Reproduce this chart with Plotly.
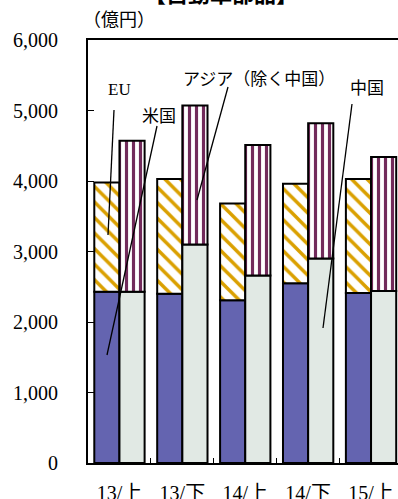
import plotly.graph_objects as go

categories = ["13/上", "13/下", "14/上", "14/下", "15/上"]
us = [2430, 2400, 2310, 2550, 2410]
eu = [1550, 1630, 1370, 1410, 1620]
china = [2430, 3100, 2660, 2900, 2440]
asia = [2140, 1970, 1850, 1920, 1900]
yticks = [0, 1000, 2000, 3000, 4000, 5000, 6000]

us_eu_base = us
china_asia_base = china

SERIF = "Liberation Serif"
CJK = "Noto Sans CJK JP"
line = dict(color="black", width=2)

fig = go.Figure()
fig.add_trace(go.Bar(x=categories, y=us, offsetgroup="a", name="米国",
                     marker=dict(color="#6464B0", line=line)))
fig.add_trace(go.Bar(x=categories, y=eu, base=us_eu_base, offsetgroup="a", name="EU",
                     marker=dict(color="white", line=line,
                                 pattern=dict(shape="\\", fgcolor="#DAA000", bgcolor="white",
                                              size=11, solidity=0.32, fillmode="replace"))))
fig.add_trace(go.Bar(x=categories, y=china, offsetgroup="b", name="中国",
                     marker=dict(color="#E1E9E4", line=line)))
fig.add_trace(go.Bar(x=categories, y=asia, base=china_asia_base, offsetgroup="b", name="アジア",
                     marker=dict(color="white", line=line,
                                 pattern=dict(shape="|", fgcolor="#722B5B", bgcolor="white",
                                              size=7, solidity=0.45, fillmode="replace"))))

# annotation helpers (pixel -> data)
def px2x(px):
    return (px - 88) / 62.9 - 0.5

def px2y(py):
    return (463 - py) / 70.5 * 1000

labels = [
    ("EU", SERIF, 17, (119.5, 89), (114, 110), (108, 235)),
    ("米国", CJK, 17, (158.5, 114), (157, 126), (107, 355)),
    ("アジア（除く中国）", CJK, 17, (259, 77), (228, 87), (197, 200)),
    ("中国", CJK, 17, (367, 86), (352, 104), (323, 328)),
]
for text, fam, size, tpos, p0, p1 in labels:
    fig.add_annotation(x=px2x(tpos[0]), y=px2y(tpos[1]), xref="x", yref="y", text=text,
                       showarrow=False, font=dict(family=fam, size=size, color="black"))
    fig.add_shape(type="line", xref="x", yref="y", x0=px2x(p0[0]), y0=px2y(p0[1]),
                  x1=px2x(p1[0]), y1=px2y(p1[1]), line=dict(color="black", width=1.3))

fig.add_annotation(text="（億円）", xref="paper", yref="paper", x=0, y=1, xanchor="left",
                   yanchor="bottom", yshift=7, xshift=-7, showarrow=False,
                   font=dict(family=CJK, size=18, color="black"))
fig.add_annotation(text="<b>【自動車部品】</b>", xref="paper", yref="paper", x=0.43, y=1,
                   yanchor="bottom", yshift=30, showarrow=False,
                   font=dict(family=CJK, size=22, color="black"))

fig.update_layout(
    width=398, height=499,
    margin=dict(l=88, r=0, t=40, b=36, autoexpand=False),
    barmode="group", bargap=0.2, bargroupgap=0,
    paper_bgcolor="white", plot_bgcolor="white",
    showlegend=False,
    font=dict(family=SERIF, size=19, color="black"),
)
fig.update_xaxes(range=[-0.5, px2x(398)], showline=True, linecolor="black", linewidth=2,
                 mirror=True, ticks="inside", tickson="boundaries", ticklen=5,
                 tickcolor="black", tickwidth=1, ticklabelstandoff=11, automargin=False,
                 tickfont=dict(family="Liberation Serif, Noto Sans CJK JP", size=20),
                 showgrid=False)
fig.update_yaxes(range=[0, 6000], tickvals=yticks, tickformat=",", showline=True,
                 linecolor="black", linewidth=2, ticks="inside", ticklen=6,
                 tickcolor="black", tickwidth=1, ticklabelstandoff=24, automargin=False,
                 tickfont=dict(family=SERIF, size=20), showgrid=False, zeroline=False)

fig.write_html("out.html")
